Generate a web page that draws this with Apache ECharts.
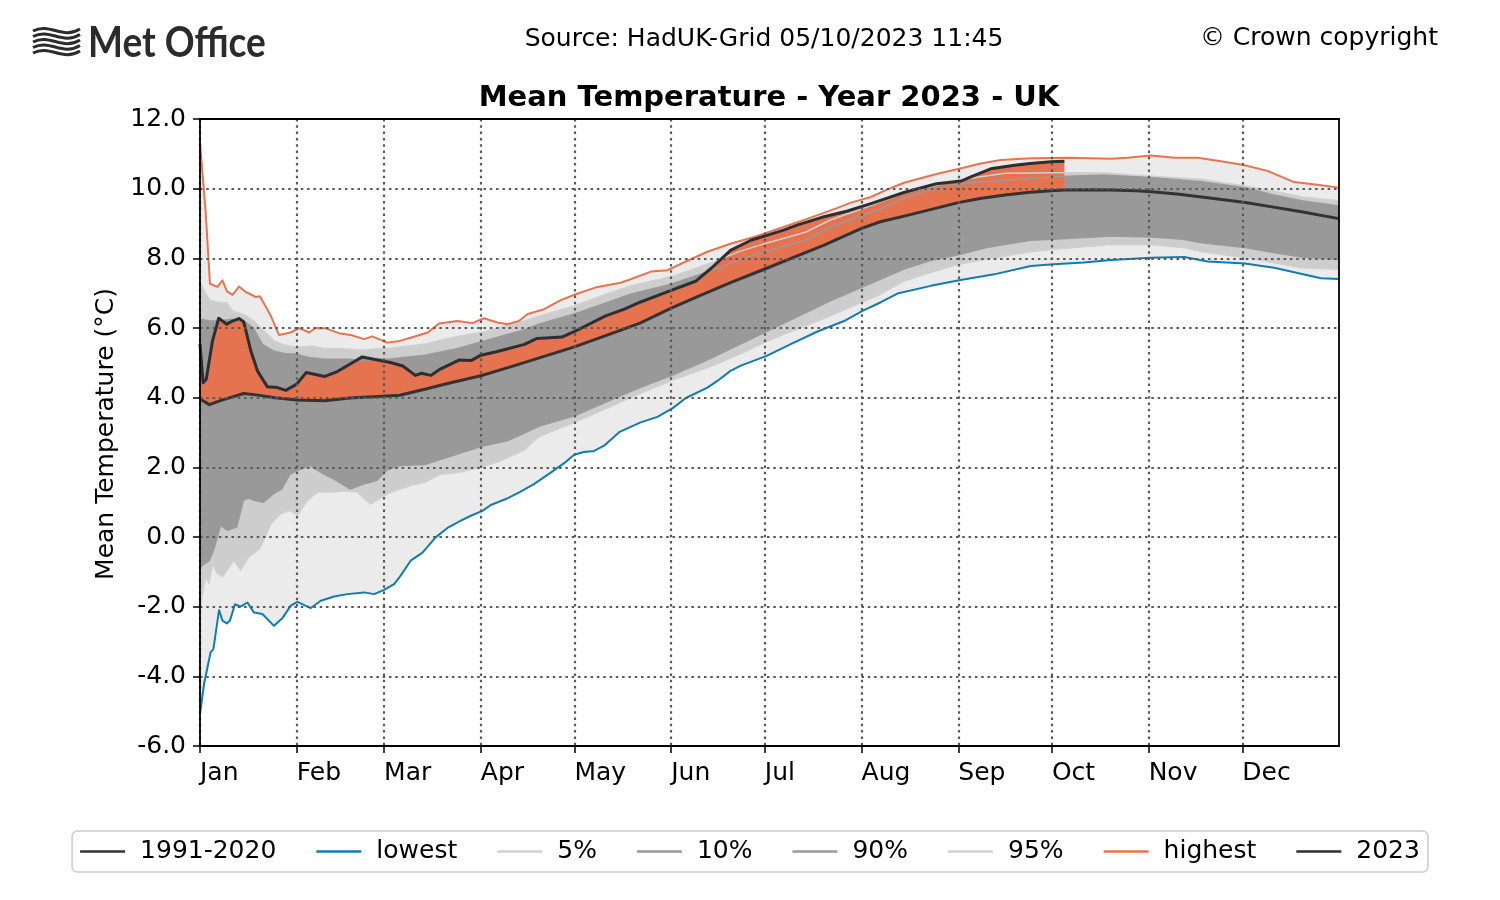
<!DOCTYPE html>
<html>
<head>
<meta charset="utf-8">
<title>Mean Temperature - Year 2023 - UK</title>
<script src="https://cdn.jsdelivr.net/npm/echarts@6.0.0/dist/echarts.min.js"></script>
<style>
html, body { margin: 0; padding: 0; background: #fff; }
#chart { width: 1500px; height: 900px; }
</style>
</head>
<body>
<div id="chart"></div>
<script>
// [day of year (0 = 1 Jan), mean temperature degC]
var mean1991 = [[0,3.96],[3,3.80],[7,3.93],[14,4.12],[18,4.08],[24,4.00],[31,3.93],[40,3.91],[48,3.99],[57,4.03],
	[64,4.07],[72,4.24],[80,4.42],[90,4.63],[100,4.90],[109,5.15],[120,5.46],[130,5.78],[141,6.14],[151,6.57],
	[160,6.92],[170,7.30],[182,7.73],[190,8.02],[200,8.38],[212,8.86],[218,9.05],[226,9.22],[235,9.42],[243,9.60],
	[250,9.72],[258,9.82],[266,9.90],[274,9.95],[277,9.96],[285,9.97],[292,9.96],[300,9.94],[305,9.91],[313,9.85],
	[321,9.76],[328,9.68],[335,9.60],[344,9.47],[353,9.34],[365,9.14]];

var y2023 = [[0,5.54],[1,4.43],[2,4.53],[4,5.63],[6,6.28],[8.6,6.11],[10.4,6.20],[12.5,6.27],[14,6.18],[16.3,5.34],
	[18.4,4.77],[21.6,4.31],[24.8,4.29],[27.5,4.21],[31,4.39],[34,4.72],[40,4.61],[44,4.75],[48,4.96],[52,5.17],
	[57,5.08],[61,5.01],[65,4.91],[69,4.64],[71,4.70],[74,4.64],[77,4.82],[83,5.08],[87,5.07],[90,5.22],
	[95,5.32],[104,5.53],[108,5.70],[116,5.74],[120,5.90],[130,6.35],[136,6.54],[141,6.74],[151,7.08],[159,7.35],
	[164,7.73],[170,8.23],[176.5,8.52],[181.6,8.66],[187,8.81],[191.5,8.96],[199,9.17],[207.5,9.36],[215,9.57],[225.6,9.89],
	[236,10.14],[244,10.22],[247,10.34],[253.4,10.57],[261,10.67],[266,10.72],[272.6,10.77],[277,10.79]];

var highest = [[0,11.32],[1.8,9.36],[3.2,7.27],[5.6,7.18],[7.2,7.37],[8.6,7.06],[10.4,6.95],[12.5,7.19],[14.6,7.04],[17.9,6.89],
	[19.2,6.91],[22.7,6.35],[25.3,5.80],[29,5.87],[31.7,6.00],[35,5.87],[37,6.00],[40.3,5.99],[45,5.84],[48.3,5.80],
	[52.6,5.68],[55.2,5.76],[60,5.58],[64,5.63],[67.5,5.72],[73,5.87],[76.6,6.13],[82.5,6.20],[87.3,6.14],[91,6.28],
	[95.3,6.16],[98.5,6.11],[102.2,6.20],[105,6.40],[110.3,6.54],[115.6,6.80],[121,6.99],[127.4,7.18],[134.8,7.30],[138,7.40],
	[144.5,7.62],[149.8,7.66],[155,7.88],[162.6,8.19],[170,8.42],[178.6,8.64],[187,8.90],[195.7,9.17],[204.3,9.45],[208.6,9.60],
	[215,9.76],[220.3,9.98],[225.6,10.17],[236.3,10.43],[243.3,10.57],[250.2,10.72],[256.6,10.82],[266.2,10.87],[279,10.89],[291.9,10.86],
	[297.2,10.89],[304.7,10.95],[312.2,10.89],[319.7,10.89],[328.2,10.77],[334.8,10.67],[342.1,10.51],[350.6,10.19],[358.1,10.11],[365,10.03]];

var lowest = [[0,-5.08],[1.3,-4.22],[2.4,-3.74],[3.4,-3.31],[4.3,-3.22],[6.1,-2.10],[7.2,-2.40],[8.6,-2.48],[9.6,-2.40],[11.2,-1.93],
	[13,-2.00],[15.2,-1.88],[17.3,-2.17],[20,-2.21],[23.7,-2.55],[26.4,-2.33],[29.1,-1.97],[31.2,-1.86],[35.5,-2.04],[38.7,-1.83],
	[43,-1.71],[47.2,-1.64],[52.6,-1.59],[55.8,-1.64],[59,-1.52],[62.2,-1.35],[64.3,-1.11],[67.5,-0.68],[71.3,-0.45],[75.5,-0.01],
	[79.3,0.26],[83.6,0.47],[86.8,0.61],[90.5,0.75],[93.2,0.92],[98,1.09],[102.3,1.28],[107,1.52],[112.4,1.85],[116.7,2.12],
	[119.9,2.36],[123,2.44],[126.3,2.47],[129.5,2.62],[134.5,3.02],[141.2,3.29],[146.6,3.45],[151.5,3.70],[155.7,3.99],[162.6,4.29],
	[165.8,4.48],[170,4.77],[173.3,4.92],[181.6,5.20],[189.3,5.54],[197.9,5.90],[206.4,6.20],[212.3,6.49],[218.2,6.74],[223.5,6.99],
	[234.2,7.21],[243.3,7.37],[254.5,7.54],[266.2,7.78],[273.5,7.83],[283.3,7.88],[291.9,7.95],[304.7,8.02],[315.4,8.04],[322.9,7.91],
	[334.8,7.85],[344.2,7.73],[352.8,7.56],[359.2,7.43],[365,7.41]];

var p95 = [[0,7.30],[2,6.95],[3.4,6.78],[6,6.74],[8.6,6.72],[10.4,6.49],[14,6.39],[17.3,6.20],[20.5,5.91],[23.7,5.63],
	[27,5.51],[31,5.45],[36,5.48],[40,5.41],[45,5.41],[52,5.36],[57,5.41],[61,5.42],[72,5.54],[82,5.75],
	[90,5.87],[104,6.20],[109,6.35],[120,6.63],[131,7.00],[138,7.21],[151,7.47],[159,7.72],[165,7.92],[173,8.20],
	[182,8.45],[194,8.75],[202,9.10],[213,9.45],[225,9.85],[236,10.10],[243,10.25],[258,10.44],[274,10.46],[289,10.46],
	[305,10.36],[321,10.27],[335,10.08],[344,9.93],[353,9.76],[365,9.65]];

var p90 = [[0,6.25],[3,6.20],[6,6.20],[10,6.25],[14,6.20],[17,6.01],[20,5.53],[23.5,5.34],[27,5.27],[31,5.25],
	[35,5.15],[40,5.10],[48,5.10],[52,5.06],[57,5.10],[61,5.11],[72,5.22],[82,5.40],[90,5.60],[104,5.95],
	[109,6.12],[120,6.40],[131,6.75],[138,6.97],[151,7.26],[159,7.50],[165,7.69],[173,7.97],[182,8.21],[194,8.52],
	[202,8.90],[213,9.25],[218,9.42],[226,9.74],[236,10.03],[246,10.17],[258,10.24],[274,10.34],[289,10.39],[305,10.32],
	[321,10.20],[335,10.03],[344,9.82],[353,9.65],[365,9.50]];

var p10 = [[0,-0.86],[3,-0.67],[4.5,-0.33],[6.6,0.33],[8.8,0.19],[11.8,0.29],[13.9,1.05],[15.5,1.12],[17.6,1.05],[20.3,1.00],
	[23.5,1.24],[26.2,1.38],[28.9,1.81],[31,1.90],[35.3,2.05],[39.6,1.81],[43.8,1.62],[48.1,1.38],[52.4,1.52],[56.6,1.62],
	[59.8,1.92],[64,2.05],[72,2.08],[82.5,2.38],[90,2.60],[98.5,2.76],[109,3.19],[120,3.48],[131,3.91],[141,4.29],
	[152,4.67],[163,5.10],[173,5.53],[182,5.92],[202,6.78],[218,7.40],[225.6,7.69],[234,7.94],[243,8.10],[252,8.31],
	[266,8.52],[273.5,8.55],[292,8.64],[305,8.61],[315,8.55],[321,8.45],[335,8.31],[344,8.17],[353,8.04],[365,7.97]];

var p5 = [[0,-2.00],[1.8,-1.14],[2.9,-1.33],[4,-0.76],[5.6,-1.05],[7.2,-1.14],[10.9,-0.67],[13,-0.95],[15.7,-0.57],[19.2,-0.33],
	[22.7,0.38],[25.9,0.67],[29.1,0.76],[31.2,0.62],[34.4,1.05],[37.6,1.29],[41.9,1.29],[46.2,1.33],[50.4,1.29],[52.6,1.10],
	[54.7,0.95],[59,1.19],[61,1.28],[67.5,1.48],[72,1.57],[77,1.80],[82.5,1.85],[90,2.00],[96.4,2.19],[104,2.50],
	[107,2.76],[109,2.90],[120,3.29],[131,3.72],[141,4.12],[152,4.53],[163,4.87],[173,5.25],[182,5.63],[202,6.35],
	[218,6.97],[225.6,7.35],[234,7.59],[243,7.83],[252,7.97],[266,8.19],[273.5,8.26],[292,8.40],[305,8.39],[315,8.31],
	[321,8.19],[335,8.02],[344,7.88],[353,7.73],[365,7.69]];

var monthStarts = [0, 31, 59, 90, 120, 151, 181, 212, 243, 273, 304, 334];
var monthNames = ['Jan', 'Feb', 'Mar', 'Apr', 'May', 'Jun', 'Jul', 'Aug', 'Sep', 'Oct', 'Nov', 'Dec'];

var FONT = 'DejaVu Sans';
var last2023 = y2023[y2023.length - 1][0];

// filled ranges, painted from the widest to the narrowest
var bands = [
	{ upper: highest, lower: lowest, color: '#ebebeb' },
	{ upper: p95, lower: p5, color: '#cdcdcd' },
	{ upper: p90, lower: p10, color: '#999999' },
	{ upper: y2023, lower: mean1991.filter(function (d) { return d[0] <= last2023; }), color: '#e6734f' }
];

function renderBand(params, api) {
	var b = bands[params.dataIndex];
	var pts = [];
	b.upper.forEach(function (d) { pts.push(api.coord(d)); });
	for (var i = b.lower.length - 1; i >= 0; i--) {
		pts.push(api.coord(b.lower[i]));
	}
	return { type: 'polygon', shape: { points: pts }, style: { fill: b.color } };
}

function lineSeries(name, data, color, width, z) {
	return {
		name: name, type: 'line', data: data, symbol: 'none', z: z, silent: true,
		lineStyle: { color: color, width: width, join: 'round' },
		itemStyle: { color: color },
		emphasis: { disabled: true }
	};
}

// Met Office wave mark
var waves = [];
for (var k = 0; k < 5; k++) {
	var wy = 31 + k * 5.5;
	waves.push({
		type: 'bezierCurve',
		shape: { x1: 33, y1: wy, cpx1: 50, cpy1: wy - 9, cpx2: 62, cpy2: wy + 9, x2: 80, y2: wy - 2 },
		style: { stroke: '#2b2b2b', lineWidth: 3, fill: null }
	});
}

var gridLine = { show: true, lineStyle: { color: '#5a5a5a', width: 2.2, type: [2.5, 3.8] } };

var option = {
	animation: false,
	backgroundColor: '#ffffff',
	grid: { left: 200, right: 161, top: 119, bottom: 154 },
	xAxis: [{
		type: 'value', min: 0, max: 365, z: 10,
		axisLine: { show: true, onZero: false, lineStyle: { color: '#000', width: 1.8 } },
		axisTick: { show: true, length: 7, customValues: monthStarts, lineStyle: { color: '#000', width: 1.5 } },
		axisLabel: {
			customValues: monthStarts, margin: 15, align: 'left',
			fontFamily: FONT, fontSize: 25, color: '#000',
			formatter: function (v) { return monthNames[monthStarts.indexOf(v)]; }
		},
		splitLine: gridLine
	}, {
		type: 'value', min: 0, max: 365, position: 'top', z: 10,
		axisLine: { show: true, onZero: false, lineStyle: { color: '#000', width: 1.8 } },
		axisTick: { show: false }, axisLabel: { show: false }, splitLine: { show: false }
	}],
	yAxis: [{
		type: 'value', min: -6, max: 12, interval: 2, z: 10,
		axisLine: { show: true, onZero: false, lineStyle: { color: '#000', width: 1.8 } },
		axisTick: { show: true, length: 7, lineStyle: { color: '#000', width: 1.5 } },
		axisLabel: {
			margin: 14, fontFamily: FONT, fontSize: 25, color: '#000',
			formatter: function (v) { return v.toFixed(1); }
		},
		splitLine: gridLine
	}, {
		type: 'value', min: -6, max: 12, interval: 2, position: 'right', z: 10,
		axisLine: { show: true, onZero: false, lineStyle: { color: '#000', width: 1.8 } },
		axisTick: { show: false }, axisLabel: { show: false }, splitLine: { show: false }
	}],
	legend: {
		data: ['1991-2020', 'lowest', '5%', '10%', '90%', '95%', 'highest', '2023'],
		left: 'center', top: 831,
		icon: 'rect', itemWidth: 45, itemHeight: 2.5, itemGap: 40,
		padding: [8, 8], borderColor: '#cccccc', borderWidth: 1.5, borderRadius: 5,
		selectedMode: false,
		textStyle: { fontFamily: FONT, fontSize: 25, color: '#000', padding: [0, 0, 0, 10] }
	},
	graphic: waves.concat([
		{ type: 'text', x: 88, y: 44, scaleY: 1.12, style: { text: 'Met Office', font: 'bold 37px Lato', fill: '#2b2b2b', verticalAlign: 'middle' } },
		{ type: 'text', x: 764, y: 39, style: { text: 'Source: HadUK-Grid 05/10/2023 11:45', font: '25px "DejaVu Sans"', fill: '#000', align: 'center', verticalAlign: 'middle' } },
		{ type: 'text', x: 1438, y: 38, style: { text: '\u00a9 Crown copyright', font: '25px "DejaVu Sans"', fill: '#000', align: 'right', verticalAlign: 'middle' } },
		{ type: 'text', x: 769, y: 98, style: { text: 'Mean Temperature - Year 2023 - UK', font: 'bold 29px "DejaVu Sans"', fill: '#000', align: 'center', verticalAlign: 'middle' } },
		{ type: 'text', x: 106, y: 434, rotation: Math.PI / 2, style: { text: 'Mean Temperature (\u00b0C)', font: '25px "DejaVu Sans"', fill: '#000', align: 'center', verticalAlign: 'middle' } }
	]),
	series: [
		{
			name: 'bands', type: 'custom', z: 1, silent: true,
			renderItem: renderBand,
			encode: { x: 0, y: 1 },
			data: bands.map(function (b, i) { return [i, 0]; })
		},
		lineSeries('5%', p5, '#d0d0d0', 1.5, 2),
		lineSeries('10%', p10, '#9a9a9a', 1.5, 2),
		lineSeries('90%', p90, '#9a9a9a', 1.5, 2),
		lineSeries('95%', p95, '#d0d0d0', 1.5, 2),
		lineSeries('lowest', lowest, '#0f7db0', 2, 3),
		lineSeries('highest', highest, '#e8744f', 2, 3),
		lineSeries('1991-2020', mean1991, '#333333', 3, 4),
		lineSeries('2023', y2023, '#2e2e2e', 3, 4)
	]
};

var chart = echarts.init(document.getElementById('chart'));
chart.setOption(option);
</script>
</body>
</html>
